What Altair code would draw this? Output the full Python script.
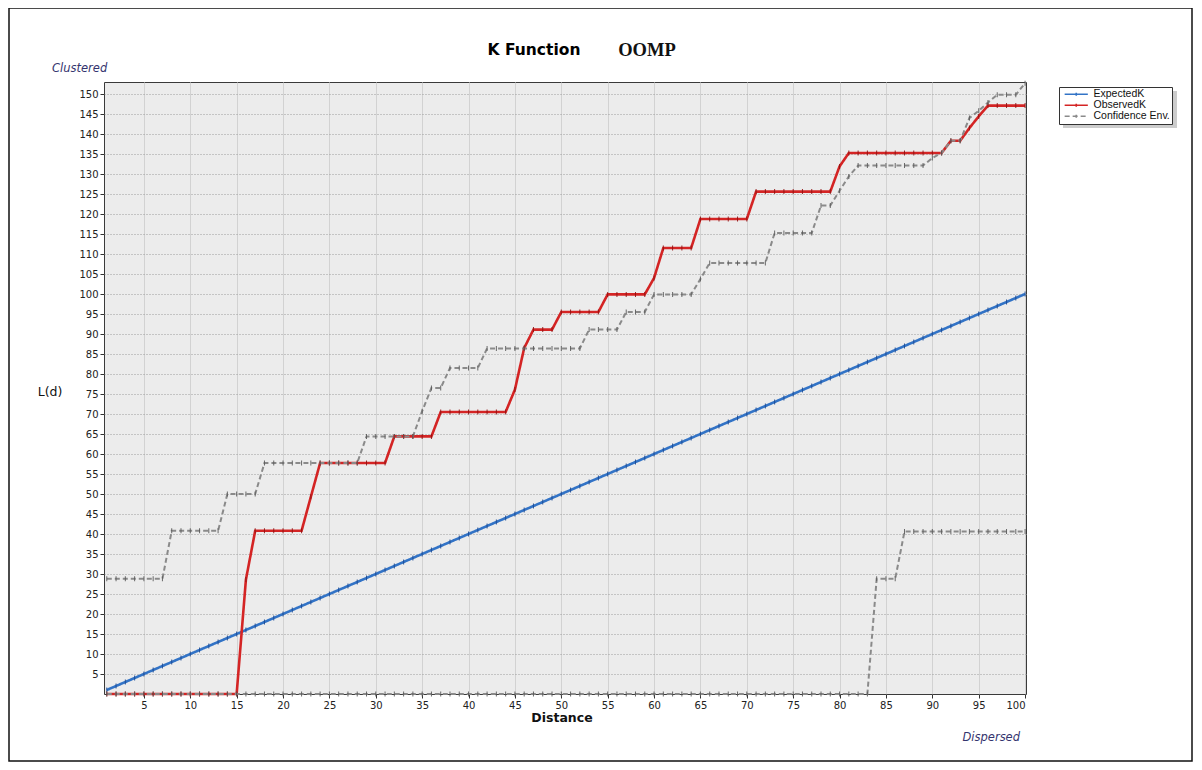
import altair as alt
import pandas as pd

# ---------------- data ----------------
distance = list(range(1, 101))

expected_k = [1, 2, 3, 4, 5, 6, 7, 8, 9, 10, 11, 12, 13, 14, 15, 16, 17, 18, 19, 20,
              21, 22, 23, 24, 25, 26, 27, 28, 29, 30, 31, 32, 33, 34, 35, 36, 37, 38, 39, 40,
              41, 42, 43, 44, 45, 46, 47, 48, 49, 50, 51, 52, 53, 54, 55, 56, 57, 58, 59, 60,
              61, 62, 63, 64, 65, 66, 67, 68, 69, 70, 71, 72, 73, 74, 75, 76, 77, 78, 79, 80,
              81, 82, 83, 84, 85, 86, 87, 88, 89, 90, 91, 92, 93, 94, 95, 96, 97, 98, 99, 100]

observed_k = ([0] * 15 + [28.6, 40.8] + [40.8] * 5 + [49.3, 57.75] + [57.75] * 7 +
              [64.4] * 5 + [70.5] * 8 + [76.1, 86.5] + [91.1] * 3 + [95.5] * 5 +
              [99.9] * 5 + [104.0] + [111.5] * 4 + [118.75] * 6 + [125.6] * 9 +
              [131.9] + [135.25] * 11 + [138.3] * 2 + [141.5, 144.4] + [147.1] * 5)

upper_env = ([28.8] * 7 + [40.8] * 6 + [50.0] * 4 + [57.75] * 11 + [64.4] * 6 +
             [70.7] + [76.5] * 2 + [81.5] * 4 + [86.4] * 11 + [91.1] * 4 + [95.5] * 3 +
             [99.9] * 5 + [103.75] + [107.75] * 7 + [115.25] * 5 + [122.1] * 2 +
             [125.8, 129.4] + [132.1] * 8 + [134.0, 135.25] + [138.3] * 2 +
             [144.0, 145.8, 147.9] + [149.8] * 3 + [152.7])

lower_env = [0] * 83 + [28.8] * 3 + [40.6] * 14

series_names = ["ExpectedK", "ObservedK", "Confidence Env."]
series_colors = ["#3273c6", "#d42424", "#8a8a8a"]
marker_colors = ["#1d4a92", "#8e1212", "#5a5a5a"]
x_ticks = list(range(5, 101, 5))
y_ticks = list(range(5, 151, 5))

rows = []
for d, e, o, u, l in zip(distance, expected_k, observed_k, upper_env, lower_env):
    rows.append({"distance": d, "value": e, "series": "ExpectedK", "line": "exp"})
    rows.append({"distance": d, "value": o, "series": "ObservedK", "line": "obs"})
    rows.append({"distance": d, "value": u, "series": "Confidence Env.", "line": "upper"})
    rows.append({"distance": d, "value": l, "series": "Confidence Env.", "line": "lower"})
df = pd.DataFrame(rows)

# ---------------- encodings ----------------
x_enc = alt.X("distance:Q",
              scale=alt.Scale(domain=[0.7, 100.1], nice=False, zero=False),
              axis=alt.Axis(values=x_ticks, title=None, gridColor="#d2d2d2",
                            gridWidth=1))
y_enc = alt.Y("value:Q",
              scale=alt.Scale(domain=[0, 153], nice=False),
              axis=alt.Axis(values=y_ticks, title=None, gridColor="#9c9c9c",
                            gridDash=[1, 2], gridWidth=1))
legend = alt.Legend(title=None, orient="none", legendX=955, legendY=5,
                    fillColor="#ffffff", strokeColor="#333333", padding=2,
                    labelFont="Liberation Sans", labelFontSize=10.5, labelColor="#111",
                    symbolType="M-2.9,0L2.9,0M0,-0.4L0,0.4", symbolSize=64,
                    symbolStrokeWidth=1.6, symbolOffset=10,
                    rowPadding=0, labelOffset=12)
color_enc = alt.Color("series:N",
                      scale=alt.Scale(domain=series_names, range=series_colors),
                      legend=legend, sort=series_names)
dash_enc = alt.StrokeDash("series:N",
                          scale=alt.Scale(domain=series_names,
                                          range=[[1, 0], [1, 0], [5, 3]]),
                          legend=legend, sort=series_names)

base = alt.Chart(df)

one = pd.DataFrame({"k": [0]})
ann = alt.Chart(one)

# legend drop shadow (drawn beneath the legend box)
shadow = ann.mark_rect(fill="#9a9a9a", opacity=0.5).encode(
    x=alt.value(959), x2=alt.value(1073), y=alt.value(9), y2=alt.value(46))

layers = [shadow]
widths = {"ExpectedK": 2.6, "ObservedK": 2.6, "Confidence Env.": 2.0}
for name in series_names:
    layers.append(
        base.transform_filter(alt.datum.series == name)
        .mark_line(strokeWidth=widths[name])
        .encode(x=x_enc, y=y_enc, color=color_enc, strokeDash=dash_enc,
                detail="line:N")
    )
for name, mc in zip(series_names, marker_colors):
    layers.append(
        base.transform_filter(alt.datum.series == name)
        .mark_tick(orient="vertical", size=5, thickness=1, color=mc, opacity=0.9)
        .encode(x=x_enc, y=y_enc)
    )

texts = [
    ann.mark_text(text="K Function", font="DejaVu Sans", fontSize=15.5,
                  fontWeight="bold", color="#000", align="center", baseline="middle")
       .encode(x=alt.value(430), y=alt.value(-32)),
    ann.mark_text(text="OOMP", font="Liberation Serif", fontSize=18.5,
                  fontWeight="bold", color="#111", align="center", baseline="middle")
       .encode(x=alt.value(543), y=alt.value(-32)),
    ann.mark_text(text="Clustered", font="DejaVu Sans", fontSize=11.5,
                  fontStyle="italic", color="#34346e", align="left", baseline="middle")
       .encode(x=alt.value(-52), y=alt.value(-13)),
    ann.mark_text(text="Dispersed", font="DejaVu Sans", fontSize=11.5,
                  fontStyle="italic", color="#34346e", align="right", baseline="middle")
       .encode(x=alt.value(916), y=alt.value(656)),
    ann.mark_text(text="L(d)", font="DejaVu Sans", fontSize=12.5,
                  color="#111", align="center", baseline="middle")
       .encode(x=alt.value(-54), y=alt.value(310)),
    ann.mark_text(text="Distance", font="DejaVu Sans", fontSize=12.5,
                  fontWeight="bold", color="#111", align="center", baseline="middle")
       .encode(x=alt.value(458), y=alt.value(636)),
    ann.mark_rect(fillOpacity=0, stroke="#111111", strokeWidth=1.5)
       .encode(x=alt.value(-95), x2=alt.value(1088), y=alt.value(-74), y2=alt.value(679)),
]

chart = alt.layer(*layers, *texts).properties(
    width=922, height=612,
    autosize=alt.AutoSizeParams(type="none"),
    padding={"left": 96, "top": 74, "right": 168, "bottom": 68},
    background="#ffffff",
).configure_view(
    fill="#ececec", stroke="#3a3a3a", strokeWidth=1
).configure_axis(
    domain=False, ticks=True, tickColor="#333333", tickSize=4,
    labelFont="DejaVu Sans", labelFontSize=10, labelColor="#222222", labelPadding=2
)

chart.save("out.html", embed_options={"renderer": "svg", "actions": False})
